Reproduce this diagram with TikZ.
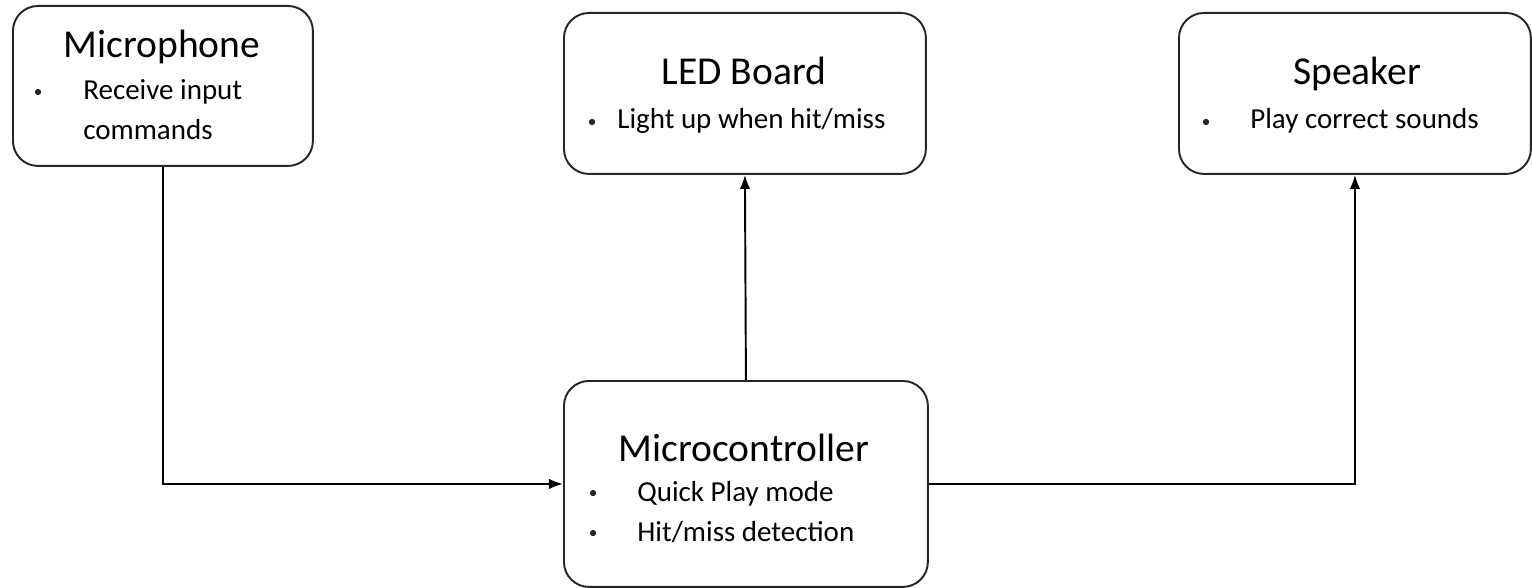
\documentclass[tikz,border=0pt]{standalone}
\usepackage{fontspec}
\setmainfont{Carlito}
\usetikzlibrary{positioning,arrows.meta}
\tikzset{
  block/.style={draw=black!85, line width=1.1pt, rounded corners=0.5cm, inner sep=0pt, anchor=north west},
  head/.style={font=\fontsize{22.5}{24}\selectfont, anchor=base, inner sep=0pt},
  item/.style={font=\fontsize{16.5}{19}\selectfont, anchor=base west, inner sep=0pt},
  dot/.style={circle, fill=black!85, inner sep=0pt, minimum size=3.6pt},
  link/.style={-{Latex[length=8pt,width=6pt]}, line width=1.1pt}
}
\begin{document}
\begin{tikzpicture}[x=0.02cm,y=-0.02cm]
\useasboundingbox (0,0) rectangle (1532,588);
% boxes
\node[block, minimum width=6cm, minimum height=3.2cm] (mic) at (12,5) {};
\node[block, minimum width=7.24cm, minimum height=3.22cm] (led) at (563,12) {};
\node[block, minimum width=7.04cm, minimum height=3.22cm] (spk) at (1178,12) {};
\node[block, minimum width=7.28cm, minimum height=4.12cm] (ctrl) at (563,380) {};
% texts
\node[head] (micT) at (162,58) {Microphone};
\node[dot] (micD) at (38,92) {};
\node[item] (micA) at (83,100) {Receive input};
\node[item] (micB) at (83,139) {commands};
\node[head] (ledT) at (744,85) {LED Board};
\node[dot] (ledD) at (592,122) {};
\node[item] (ledA) at (617,129) {Light up when hit/miss};
\node[head] (spkT) at (1357,85) {Speaker};
\node[dot] (spkD) at (1206,122) {};
\node[item] (spkA) at (1250,129) {Play correct sounds};
\node[head] (ctrlT) at (744,461) {Microcontroller};
\node[dot] (ctrlD1) at (593,493) {};
\node[item] (ctrlA) at (637,501) {Quick Play mode};
\node[dot] (ctrlD2) at (593,533) {};
\node[item] (ctrlB) at (637,541) {Hit/miss detection};
% connectors
\draw[link] (mic.south) |- (ctrl.west);
\draw[link] (ctrl.north) -- (led.south);
\draw[link] (ctrl.east) -| (spk.south);
\end{tikzpicture}
\end{document}
